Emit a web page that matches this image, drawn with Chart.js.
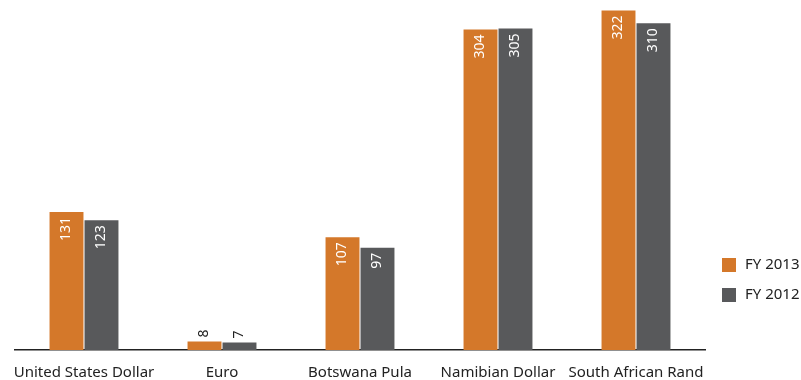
<!DOCTYPE html>
<html>
<head>
<meta charset="utf-8">
<script src="https://cdn.jsdelivr.net/npm/chart.js@4"></script>
<style>
  body { margin: 0; background: #fff; }
  #wrap { width: 801px; height: 380px; }
</style>
</head>
<body>
<div id="wrap"><canvas id="currencyChart"></canvas></div>
<script>
const currencies = ['United States Dollar', 'Euro', 'Botswana Pula', 'Namibian Dollar', 'South African Rand'];
const fy2013 = [131, 8, 107, 304, 322];
const fy2012 = [123, 7, 97, 305, 310];
const seriesNames = ['FY 2013', 'FY 2012'];

const FONT = '"Noto Sans", sans-serif';

// value labels: rotated, inside the bar top, or above it when the bar is short
const barLabels = {
    id: 'barLabels',
    afterDatasetsDraw(chart) {
        const ctx = chart.ctx;
        ctx.save();
        ctx.font = '14px ' + FONT;
        chart.data.datasets.forEach((ds, i) => {
            chart.getDatasetMeta(i).data.forEach((bar, j) => {
                const txt = String(ds.data[j]);
                const w = ctx.measureText(txt).width;
                const h = bar.base - bar.y;
                ctx.save();
                ctx.translate(bar.x, bar.y);
                ctx.rotate(-Math.PI / 2);
                ctx.textBaseline = 'middle';
                if (h > w + 10) {
                    ctx.fillStyle = '#fff';
                    ctx.textAlign = 'right';
                    ctx.fillText(txt, -5, 0);
                } else {
                    ctx.fillStyle = '#222';
                    ctx.textAlign = 'left';
                    ctx.fillText(txt, 4, 0);
                }
                ctx.restore();
            });
        });
        ctx.restore();
    }
};

// legend at the lower right
const sideLegend = {
    id: 'sideLegend',
    afterDraw(chart) {
        const ctx = chart.ctx;
        ctx.save();
        ctx.font = '15px ' + FONT;
        ctx.textBaseline = 'middle';
        chart.data.datasets.forEach((ds, i) => {
            const y = 258 + i * 30;
            ctx.fillStyle = ds.backgroundColor;
            ctx.fillRect(722, y, 14, 14);
            ctx.fillStyle = '#222';
            ctx.fillText(ds.label, 745, y + 7);
        });
        ctx.restore();
    }
};

new Chart(document.getElementById('currencyChart'), {
    type: 'bar',
    data: {
        labels: currencies,
        datasets: [{
            label: seriesNames[0],
            data: fy2013,
            backgroundColor: '#d4782a',
            barPercentage: 0.97,
            categoryPercentage: 0.507
        }, {
            label: seriesNames[1],
            data: fy2012,
            backgroundColor: '#58595b',
            barPercentage: 0.97,
            categoryPercentage: 0.507
        }]
    },
    options: {
        responsive: true,
        maintainAspectRatio: false,
        animation: false,
        layout: { padding: { left: 15, right: 96, top: 0, bottom: 0 } },
        plugins: {
            legend: { display: false },
            tooltip: { enabled: false }
        },
        scales: {
            x: {
                grid: { display: false, drawTicks: false },
                border: { color: '#222', width: 1.5 },
                ticks: {
                    color: '#222',
                    font: { family: FONT, size: 15 },
                    padding: 14,
                    maxRotation: 0,
                    autoSkip: false
                },
                afterFit(scale) {
                    scale.height = 30;
                    scale.paddingLeft = 0;
                    scale.paddingRight = 0;
                }
            },
            y: {
                display: false,
                min: 0,
                max: 332
            }
        }
    },
    plugins: [barLabels, sideLegend]
});
</script>
</body>
</html>
